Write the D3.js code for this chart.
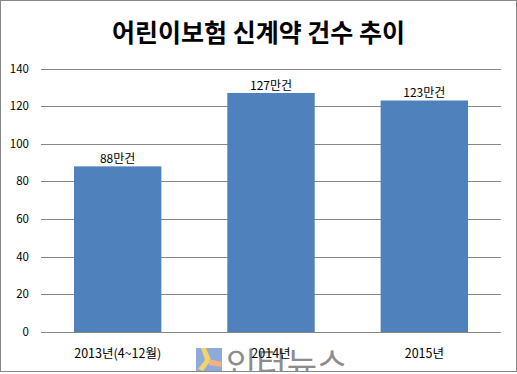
<!DOCTYPE html>
<html>
<head>
<meta charset="utf-8">
<script src="https://d3js.org/d3.v7.min.js"></script>
<style>
  body { margin: 0; background: #fff; }
  text { font-family: "Noto Sans CJK KR", "Noto Sans", sans-serif; }
</style>
</head>
<body>
<svg width="517" height="374"></svg>
<script>
// chart data
var categories = ["2013년(4~12월)", "2014년", "2015년"];
var values = [88, 127, 123];
var valueLabels = ["88만건", "127만건", "123만건"];
var yTicks = [0, 20, 40, 60, 80, 100, 120, 140];
var title = "어린이보험 신계약 건수 추이";

var svg = d3.select("svg");
var W = 517, H = 374;
// plot area edges (don't call these "top" - clashes with window.top)
var plotLeft = 41, plotRight = 501, plotTop = 68.5, plotBottom = 332;

// outer border
svg.append("rect")
    .attr("x", 0.5).attr("y", 0.5)
    .attr("width", W - 1).attr("height", H - 3)
    .attr("fill", "white").attr("stroke", "#888");

svg.append("text")
    .attr("x", W / 2).attr("y", 42)
    .attr("text-anchor", "middle")
    .attr("font-size", 25).attr("font-weight", "bold")
    .attr("fill", "#000")
    .text(title);

var x = d3.scaleBand().domain(categories).range([plotLeft, plotRight]).paddingInner(0.43).paddingOuter(0.215);
var y = d3.scaleLinear().domain([0, 140]).range([plotBottom, plotTop]);

// gridlines
svg.append("g").selectAll("line").data(yTicks).enter().append("line")
    .attr("x1", plotLeft).attr("x2", plotRight)
    .attr("y1", function(d) { return Math.round(y(d)) + 0.5; })
    .attr("y2", function(d) { return Math.round(y(d)) + 0.5; })
    .attr("stroke", "#868686").attr("stroke-width", 1);

// y tick labels
svg.append("g").selectAll("text").data(yTicks).enter().append("text")
    .attr("x", 29).attr("y", function(d) { return y(d) + 4; })
    .attr("text-anchor", "end")
    .attr("font-size", 11.5).attr("fill", "#000")
    .text(function(d) { return d; });

// bars
svg.append("g").selectAll("rect").data(values).enter().append("rect")
    .attr("x", function(d, i) { return x(categories[i]); })
    .attr("y", function(d) { return y(d); })
    .attr("width", x.bandwidth())
    .attr("height", function(d) { return plotBottom - y(d); })
    .attr("fill", "#4f81bd");

// value labels
svg.append("g").selectAll("text").data(values).enter().append("text")
    .attr("x", function(d, i) { return x(categories[i]) + x.bandwidth() / 2; })
    .attr("y", function(d) { return y(d) - 3; })
    .attr("text-anchor", "middle")
    .attr("font-size", 12).attr("fill", "#000")
    .text(function(d, i) { return valueLabels[i]; });

// watermark (drawn under the axis labels)
var wm = svg.append("g");
wm.append("rect").attr("x", 196).attr("y", 348).attr("width", 26).attr("height", 24).attr("fill", "#8eaadb");
wm.append("path").attr("d", "M201,348 L206,348 L211,360 L203,371 L198,369 L205,360 Z").attr("fill", "#f5d36b");
wm.append("path").attr("d", "M209,359 L222,362 L221,367 L209,365 Z").attr("fill", "#f4b183");
wm.append("text")
    .attr("x", 226).attr("y", 376)
    .attr("font-size", 33).attr("fill", "#8c8c8c")
    .text("인터뉴스");
// cover below the bottom border
svg.append("rect").attr("x", 0).attr("y", 372).attr("width", W).attr("height", 2).attr("fill", "white");
svg.append("line").attr("x1", 0).attr("x2", W).attr("y1", 371.5).attr("y2", 371.5).attr("stroke", "#888");

// x axis line
svg.append("line")
    .attr("x1", plotLeft).attr("x2", plotRight)
    .attr("y1", Math.round(plotBottom) + 0.5).attr("y2", Math.round(plotBottom) + 0.5)
    .attr("stroke", "#868686");

// x labels
svg.append("g").selectAll("text").data(categories).enter().append("text")
    .attr("x", function(d) { return x(d) + x.bandwidth() / 2; })
    .attr("y", 358)
    .attr("text-anchor", "middle")
    .attr("font-size", 12.5).attr("fill", "#000")
    .text(function(d) { return d; });
</script>
</body>
</html>
